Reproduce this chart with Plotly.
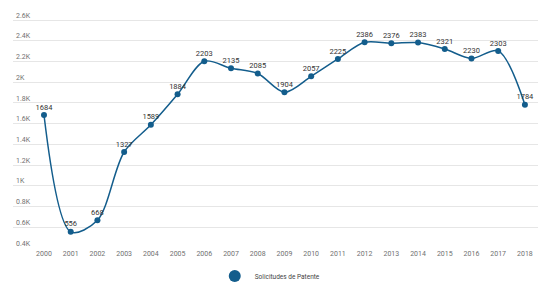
import plotly.graph_objects as go

years = [str(y) for y in range(2000, 2019)]
solicitudes = [1684, 556, 668, 1327, 1589, 1884, 2203, 2135, 2085, 1904,
               2057, 2225, 2386, 2376, 2383, 2321, 2230, 2303, 1784]
tick_vals = [400, 600, 800, 1000, 1200, 1400, 1600, 1800, 2000, 2200, 2400, 2600]
tick_text = ["0.4K", "0.6K", "0.8K", "1K", "1.2K", "1.4K", "1.6K", "1.8K",
             "2K", "2.2K", "2.4K", "2.6K"]
series_name = "Solicitudes de Patente"
color = "#135d8c"

fig = go.Figure()
fig.add_trace(go.Scatter(
    x=years, y=solicitudes, mode="lines+markers",
    name=series_name, showlegend=False,
    line=dict(color=color, width=1.5, shape="spline", smoothing=0.9),
    marker=dict(color=color, size=6),
    cliponaxis=False,
))
# value labels sitting just above each point
fig.add_trace(go.Scatter(
    x=years, y=solicitudes, mode="markers+text", showlegend=False,
    hoverinfo="skip", marker=dict(size=4, opacity=0),
    text=[str(v) for v in solicitudes], textposition="top center",
    textfont=dict(size=7.5, color="#333333", family="Roboto"),
    cliponaxis=False,
))
# legend-only entry (circle symbol, as in the reference legend)
fig.add_trace(go.Scatter(
    x=[None], y=[None], mode="markers", name=series_name,
    marker=dict(color=color, size=10),
))

# the page body has an 8px default margin, so the figure is sized to fit
fig.update_layout(
    width=543, height=276,
    margin=dict(l=5, r=13, t=0, b=36, autoexpand=False),
    paper_bgcolor="white", plot_bgcolor="white",
    font=dict(family="Roboto", size=7, color="#707070"),
    showlegend=True,
    legend=dict(orientation="h", x=0.49, xanchor="center", yref="container",
                y=0.029, yanchor="middle", font=dict(size=6.5, color="#444444"),
                itemsizing="constant"),
    xaxis=dict(type="category", range=[-1.16, 18.49], showgrid=False,
               showline=False, ticks="", tickfont=dict(size=7, color="#707070"),
               zeroline=False, automargin=False),
    yaxis=dict(range=[400, 2717], tickvals=tick_vals, ticktext=tick_text,
               ticklabelposition="inside top", showgrid=True,
               gridcolor="#e6e6e6", gridwidth=1, zeroline=False, showline=False,
               tickfont=dict(size=7, color="#707070"), automargin=False),
)

fig.write_html("out.html")
